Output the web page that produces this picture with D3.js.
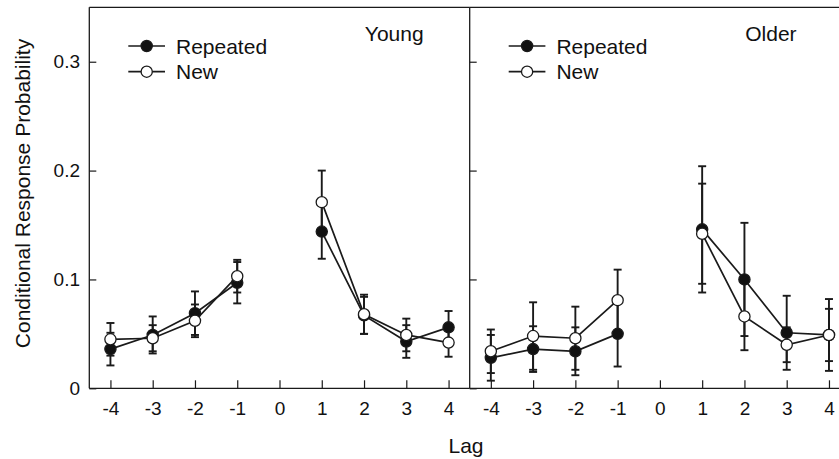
<!DOCTYPE html>
<html>
<head>
<meta charset="utf-8">
<script src="https://cdn.jsdelivr.net/npm/d3@7"></script>
<style>
  body { margin: 0; background: #fff; }
  svg { display: block; }
  text { font-family: "Liberation Sans", Arial, Helvetica, sans-serif; fill: #111; }
</style>
</head>
<body>
<div id="chart"></div>
<script>
// lag values (0 is never plotted)
var lags = [-4, -3, -2, -1, 1, 2, 3, 4];
var xTicks = [-4, -3, -2, -1, 0, 1, 2, 3, 4];
var yTicks = [0, 0.1, 0.2, 0.3];
var seriesNames = ["Repeated", "New"];
var panelNames = ["Young", "Older"];

var youngRepeated    = [0.036, 0.049, 0.069, 0.097, 0.144, 0.067, 0.043, 0.056];
var youngRepeatedErr = [0.015, 0.017, 0.020, 0.019, 0.025, 0.017, 0.015, 0.015];
var youngNew         = [0.045, 0.046, 0.062, 0.103, 0.171, 0.068, 0.049, 0.042];
var youngNewErr      = [0.015, 0.012, 0.015, 0.015, 0.029, 0.018, 0.015, 0.013];

var olderRepeated    = [0.028, 0.036, 0.034, 0.050, 0.146, 0.100, 0.051, 0.049];
var olderRepeatedErr = [0.021, 0.021, 0.022, 0.030, 0.058, 0.052, 0.034, 0.024];
var olderNew         = [0.034, 0.048, 0.046, 0.081, 0.142, 0.066, 0.040, 0.049];
var olderNewErr      = [0.020, 0.031, 0.029, 0.028, 0.046, 0.031, 0.016, 0.033];

var panels = [
  {name: panelNames[0], series: [
    {name: seriesNames[0], vals: youngRepeated, errs: youngRepeatedErr, fill: "#111"},
    {name: seriesNames[1], vals: youngNew, errs: youngNewErr, fill: "#fff"}]},
  {name: panelNames[1], series: [
    {name: seriesNames[0], vals: olderRepeated, errs: olderRepeatedErr, fill: "#111"},
    {name: seriesNames[1], vals: olderNew, errs: olderNewErr, fill: "#fff"}]}
];

var W = 839, H = 459;
var margin = {top: 7.3, left: 89.3},
    pw = 380.4,
    ph = 381;

var svg = d3.select("#chart").append("svg")
    .attr("width", W)
    .attr("height", H);

var x = d3.scaleLinear().domain([-4.5, 4.5]).range([0, pw]);
var y = d3.scaleLinear().domain([0, 0.35]).range([ph, 0]);

var ink = "#1a1a1a";

panels.forEach(function(p, pi) {
  var g = svg.append("g")
      .attr("transform", "translate(" + (margin.left + pi * pw) + "," + margin.top + ")");

  // y axis (labels only on the first panel)
  var yAxis = d3.axisLeft(y)
      .tickValues(yTicks)
      .tickSize(-7)
      .tickPadding(9.3)
      .tickFormat(function(d) { return pi === 0 ? (d === 0 ? "0" : d3.format(".1f")(d)) : ""; });
  var ya = g.append("g").call(yAxis);
  ya.select(".domain").remove();
  ya.selectAll("line").attr("stroke", ink).attr("stroke-width", 1.2);
  ya.selectAll("text").style("font-size", "19px").attr("fill", "#111");

  // plain hyphen for negatives, as in the original
  var xAxis = d3.axisBottom(x)
      .tickValues(xTicks)
      .tickSize(-8)
      .tickPadding(13.2)
      .tickFormat(function(d) { return String(d); });
  var xa = g.append("g").attr("transform", "translate(0," + ph + ")").call(xAxis);
  xa.select(".domain").remove();
  xa.selectAll("line").attr("stroke", ink).attr("stroke-width", 1.2);
  xa.selectAll("text").style("font-size", "19px").attr("fill", "#111");

  // frame
  g.append("line").attr("x1", 0).attr("x2", 0).attr("y1", 0).attr("y2", ph)
      .attr("stroke", ink).attr("stroke-width", 1.3);
  g.append("line").attr("x1", 0).attr("x2", pw).attr("y1", 0).attr("y2", 0)
      .attr("stroke", ink).attr("stroke-width", 1.3);
  g.append("line").attr("x1", 0).attr("x2", pw).attr("y1", ph).attr("y2", ph)
      .attr("stroke", ink).attr("stroke-width", 1.3);

  // panel title
  g.append("text")
      .attr("x", 275.5)
      .attr("y", 33.4)
      .style("font-size", "21px")
      .text(p.name);

  var pts = p.series.map(function(s) {
    return lags.map(function(l, i) { return {lag: l, v: s.vals[i], e: s.errs[i], fill: s.fill}; });
  });

  // error bars
  pts.forEach(function(sp) {
    var eb = g.selectAll(null).data(sp).enter().append("g").attr("class", "err");
    eb.append("line")
        .attr("x1", function(d) { return x(d.lag); })
        .attr("x2", function(d) { return x(d.lag); })
        .attr("y1", function(d) { return y(d.v + d.e); })
        .attr("y2", function(d) { return y(d.v - d.e); });
    eb.append("line")
        .attr("x1", function(d) { return x(d.lag) - 4; })
        .attr("x2", function(d) { return x(d.lag) + 4; })
        .attr("y1", function(d) { return y(d.v + d.e); })
        .attr("y2", function(d) { return y(d.v + d.e); });
    eb.append("line")
        .attr("x1", function(d) { return x(d.lag) - 4; })
        .attr("x2", function(d) { return x(d.lag) + 4; })
        .attr("y1", function(d) { return y(d.v - d.e); })
        .attr("y2", function(d) { return y(d.v - d.e); });
    eb.selectAll("line").attr("stroke", ink).attr("stroke-width", 1.9);
  });

  // lines, broken at lag 0
  var line = d3.line()
      .defined(function(d) { return d.lag !== 0; })
      .x(function(d) { return x(d.lag); })
      .y(function(d) { return y(d.v); });
  pts.forEach(function(sp) {
    var withGap = sp.slice(0, 4).concat([{lag: 0}]).concat(sp.slice(4));
    g.append("path")
        .attr("d", line(withGap))
        .attr("fill", "none")
        .attr("stroke", ink)
        .attr("stroke-width", 1.7);
  });

  // markers
  pts.forEach(function(sp) {
    g.selectAll(null).data(sp).enter().append("circle")
        .attr("cx", function(d) { return x(d.lag); })
        .attr("cy", function(d) { return y(d.v); })
        .attr("r", 5.6)
        .attr("fill", function(d) { return d.fill; })
        .attr("stroke", ink)
        .attr("stroke-width", 1.3);
  });

  // legend
  var leg = g.append("g").attr("transform", "translate(39,38.7)");
  p.series.forEach(function(s, si) {
    var row = leg.append("g").attr("transform", "translate(0," + (si * 25.7) + ")");
    row.append("line").attr("x1", 0).attr("x2", 36.7).attr("y1", 0).attr("y2", 0)
        .attr("stroke", ink).attr("stroke-width", 1.7);
    row.append("circle").attr("cx", 18.4).attr("cy", 0).attr("r", 5.6)
        .attr("fill", s.fill).attr("stroke", ink).attr("stroke-width", 1.3);
    row.append("text").attr("x", 47.7).attr("y", 7.6)
        .style("font-size", "21px")
        .text(s.name);
  });
});

// axis titles
svg.append("text")
    .attr("transform", "translate(30," + 193.5 + ") rotate(-90)")
    .attr("text-anchor", "middle")
    .style("font-size", "21px")
    .text("Conditional Response Probability");

svg.append("text")
    .attr("x", 466)
    .attr("y", 453.3)
    .attr("text-anchor", "middle")
    .style("font-size", "21px")
    .text("Lag");
</script>
</body>
</html>
